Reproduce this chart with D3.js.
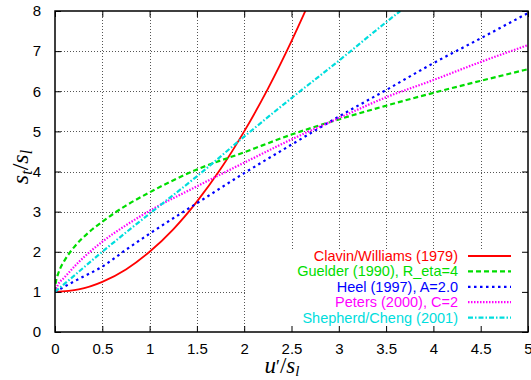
<!DOCTYPE html>
<html>
<head>
<meta charset="utf-8">
<script src="https://cdn.jsdelivr.net/npm/d3@7"></script>
<style>
  body { margin: 0; background: #fff; }
  svg { display: block; }
</style>
</head>
<body>
<svg id="Target" width="531" height="380"></svg>
<script>
// values (x = u'/s_l, y = s_t/s_l)
var xTicks = [0, 0.5, 1, 1.5, 2, 2.5, 3, 3.5, 4, 4.5, 5];
var yTicks = [0, 1, 2, 3, 4, 5, 6, 7, 8];

var clavinX = [0, 0.25, 0.5, 0.75, 1, 1.25, 1.5, 1.75, 2, 2.25, 2.5, 2.65];
var clavinY = [1, 1.06, 1.25, 1.56, 2, 2.56, 3.25, 4.06, 5, 6.06, 7.25, 8.02];

var guelderX = [0, 0.01, 0.03, 0.06, 0.1, 0.2, 0.35, 0.5, 0.75, 1, 1.5, 2, 2.5, 3, 3.5, 4, 4.5, 5];
var guelderY = [1, 1.25, 1.43, 1.61, 1.78, 2.11, 2.47, 2.75, 3.15, 3.48, 4.05, 4.48, 4.92, 5.3, 5.64, 5.96, 6.26, 6.55];

var heelX = [0, 0.1, 0.25, 0.5, 0.75, 1, 1.5, 2, 2.5, 3, 3.5, 4, 4.5, 5];
var heelY = [1, 1.13, 1.32, 1.63, 2.05, 2.45, 3.21, 3.96, 4.67, 5.37, 6.03, 6.7, 7.32, 7.95];

var petersX = [0, 0.03, 0.1, 0.25, 0.5, 0.75, 1, 1.5, 2, 2.5, 3, 3.5, 4, 4.5, 5];
var petersY = [1, 1.17, 1.36, 1.74, 2.25, 2.66, 3.02, 3.63, 4.22, 4.8, 5.33, 5.85, 6.28, 6.73, 7.15];

var shepherdX = [0, 0.25, 0.5, 0.75, 1, 1.5, 2, 2.5, 3, 3.5, 3.65];
var shepherdY = [1, 1.5, 2.0, 2.48, 2.95, 3.88, 4.87, 5.83, 6.76, 7.72, 8.0];

var seriesNames = ["Clavin/Williams (1979)", "Guelder (1990), R_eta=4", "Heel (1997), A=2.0",
    "Peters (2000), C=2", "Shepherd/Cheng (2001)"];
var seriesColors = ["#ff0000", "#00dd00", "#0000ff", "#ff00ff", "#00dddd"];
var seriesDash = [null, "5 3", "2.5 3.5", "1.5 1.5", "5 2 1.5 2"];

(function () {
    var series = [
        d3.zip(clavinX, clavinY),
        d3.zip(guelderX, guelderY),
        d3.zip(heelX, heelY),
        d3.zip(petersX, petersY),
        d3.zip(shepherdX, shepherdY)
    ];

    var plotLeft = 55, plotRight = 528, plotTop = 11, plotBottom = 332;
    var svg = d3.select("#Target");

    var x = d3.scaleLinear().domain([0, 5]).range([plotLeft, plotRight]);
    var y = d3.scaleLinear().domain([0, 8]).range([plotBottom, plotTop]);

    // dotted grid
    var grid = svg.append("g")
        .attr("stroke", "#555")
        .attr("stroke-width", 1)
        .attr("stroke-dasharray", "1 2");
    grid.selectAll("line.gx")
        .data(xTicks.slice(1, -1))
        .enter()
        .append("line")
        .attr("x1", function (d) { return Math.round(x(d)) + 0.5; })
        .attr("x2", function (d) { return Math.round(x(d)) + 0.5; })
        .attr("y1", plotTop)
        .attr("y2", plotBottom);
    grid.selectAll("line.gy")
        .data(yTicks.slice(1, -1))
        .enter()
        .append("line")
        .attr("y1", function (d) { return Math.round(y(d)) + 0.5; })
        .attr("y2", function (d) { return Math.round(y(d)) + 0.5; })
        .attr("x1", plotLeft)
        .attr("x2", plotRight);

    // opaque key box covers the grid
    svg.append("rect")
        .attr("x", 247)
        .attr("y", 249)
        .attr("width", plotRight - 247)
        .attr("height", plotBottom - 249)
        .attr("fill", "#fff");

    // curves
    svg.append("clipPath")
        .attr("id", "plotClip")
        .append("rect")
        .attr("x", plotLeft)
        .attr("y", plotTop)
        .attr("width", plotRight - plotLeft)
        .attr("height", plotBottom - plotTop);

    var lineGenerator = d3.line()
        .x(function (d) { return x(d[0]); })
        .y(function (d) { return y(d[1]); })
        .curve(d3.curveMonotoneX);

    svg.append("g")
        .attr("clip-path", "url(#plotClip)")
        .selectAll("path")
        .data(series)
        .enter()
        .append("path")
        .attr("d", lineGenerator)
        .attr("fill", "none")
        .attr("stroke", function (d, i) { return seriesColors[i]; })
        .attr("stroke-width", function (d, i) { return i === 0 ? 1.8 : 2.2; })
        .attr("stroke-dasharray", function (d, i) { return seriesDash[i]; });

    // axes: ticks pointing inward on all four sides
    var font = "'Liberation Sans', Arial, sans-serif";
    var axisBottom = svg.append("g")
        .attr("transform", "translate(0," + plotBottom + ")")
        .call(d3.axisBottom(x).tickValues(xTicks).tickSizeInner(-6).tickSizeOuter(0).tickPadding(11)
            .tickFormat(d3.format("")));
    var axisTop = svg.append("g")
        .attr("transform", "translate(0," + plotTop + ")")
        .call(d3.axisTop(x).tickValues(xTicks).tickSizeInner(-6).tickSizeOuter(0).tickFormat(""));
    var axisLeft = svg.append("g")
        .attr("transform", "translate(" + plotLeft + ",0)")
        .call(d3.axisLeft(y).tickValues(yTicks).tickSizeInner(-6).tickSizeOuter(0).tickPadding(14));
    var axisRight = svg.append("g")
        .attr("transform", "translate(" + plotRight + ",0)")
        .call(d3.axisRight(y).tickValues(yTicks).tickSizeInner(-6).tickSizeOuter(0).tickFormat(""));

    [axisBottom, axisTop, axisLeft, axisRight].forEach(function (a) {
        a.select(".domain").remove();
        a.selectAll("line").attr("stroke", "#000").attr("stroke-width", 1);
        a.selectAll("text").attr("font-family", font).attr("font-size", 15).attr("fill", "#000");
    });

    svg.append("rect")
        .attr("x", plotLeft)
        .attr("y", plotTop)
        .attr("width", plotRight - plotLeft)
        .attr("height", plotBottom - plotTop)
        .attr("fill", "none")
        .attr("stroke", "#000")
        .attr("stroke-width", 1.5);

    // key
    var keyRight = 458, keyTop = 256, keyStep = 15.4;
    var key = svg.append("g");
    seriesNames.forEach(function (name, i) {
        var ky = keyTop + i * keyStep;
        key.append("text")
            .attr("x", keyRight)
            .attr("y", ky)
            .attr("dy", "0.35em")
            .attr("text-anchor", "end")
            .attr("font-family", font)
            .attr("font-size", 14.5)
            .attr("fill", seriesColors[i])
            .text(name);
        key.append("line")
            .attr("x1", 468)
            .attr("x2", 511)
            .attr("y1", ky)
            .attr("y2", ky)
            .attr("stroke", seriesColors[i])
            .attr("stroke-width", i === 0 ? 1.8 : 2.2)
            .attr("stroke-dasharray", seriesDash[i]);
    });

    // axis titles in math style
    var mathFont = "'Liberation Serif', 'DejaVu Serif', serif";
    var xTitle = svg.append("text")
        .attr("x", 282)
        .attr("y", 373)
        .attr("text-anchor", "middle")
        .attr("font-family", mathFont)
        .attr("font-size", 23);
    xTitle.append("tspan").attr("font-style", "italic").text("u");
    xTitle.append("tspan").attr("font-size", 18).text("\u2032");
    xTitle.append("tspan").text("/");
    xTitle.append("tspan").attr("font-style", "italic").text("s");
    xTitle.append("tspan").attr("font-style", "italic").attr("font-size", 15).attr("dy", 3).text("l");

    var yTitle = svg.append("text")
        .attr("transform", "translate(28,167) rotate(-90)")
        .attr("text-anchor", "middle")
        .attr("font-family", mathFont)
        .attr("font-size", 24);
    yTitle.append("tspan").attr("font-style", "italic").text("s");
    yTitle.append("tspan").attr("font-style", "italic").attr("font-size", 16).attr("dy", 4).text("t");
    yTitle.append("tspan").attr("dy", -4).text("/");
    yTitle.append("tspan").attr("font-style", "italic").text("s");
    yTitle.append("tspan").attr("font-style", "italic").attr("font-size", 16).attr("dy", 4).text("l");
})();
</script>
</body>
</html>
